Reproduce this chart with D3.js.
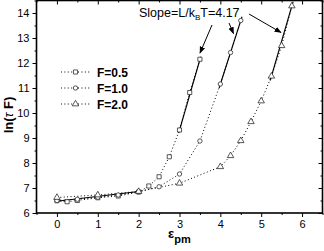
<!DOCTYPE html>
<html>
<head>
<meta charset="utf-8">
<script src="https://cdn.jsdelivr.net/npm/d3@7"></script>
<style>
  body { margin: 0; background: #fff; }
  svg { display: block; font-family: Arial, "Liberation Sans", sans-serif; }
</style>
</head>
<body>
<svg id="chart" width="324" height="251"></svg>
<script>
// data
const sqX = [0, 0.25, 0.5, 1, 1.5, 2, 2.25, 2.5, 2.75, 3, 3.25, 3.5]
const sqY = [6.49, 6.45, 6.5, 6.61, 6.68, 6.84, 7.08, 7.45, 8.25, 9.32, 10.82, 12.15]
const ciX = [0, 0.5, 1, 1.5, 2, 2.5, 3, 3.5, 4, 4.25, 4.5]
const ciY = [6.5, 6.55, 6.63, 6.72, 6.85, 7.05, 7.56, 8.88, 11.16, 12.42, 13.7]
const trX = [0, 1, 2, 3, 4, 4.25, 4.5, 4.75, 5, 5.25, 5.5, 5.75]
const trY = [6.62, 6.72, 6.86, 7.19, 7.85, 8.29, 8.89, 9.65, 10.48, 11.47, 12.69, 14.28]
const legendLabels = ["F=0.5", "F=1.0", "F=2.0"]

// solid fit segments [x0, x1], [y0, y1]
const fitLowX = [0, 2.05], fitLowY = [6.47, 6.87]
const fitSqX = [2.98, 3.52], fitSqY = [9.2, 12.25]
const fitCiX = [3.97, 4.53], fitCiY = [11.0, 13.85]
const fitTrX = [5.22, 5.78], fitTrY = [11.3, 14.45]

const xTicks = [0, 1, 2, 3, 4, 5, 6]
const yTicks = [6, 7, 8, 9, 10, 11, 12, 13, 14]

const svg = d3.select("#chart")
const mLeft = 36.5, mRight = 322.5, mTop = 0.5, mBottom = 213

const x = d3.scaleLinear().domain([-0.5, 6.5]).range([mLeft, mRight])
const y = d3.scaleLinear().domain([6, 14.5]).range([mBottom, mTop])

const xMinor = d3.range(-0.5, 6.51, 0.5).filter(v => !xTicks.includes(v))
const yMinor = d3.range(6.5, 14.51, 0.5).filter(v => !yTicks.includes(v))

// axes: left/bottom ticks outward, top/right ticks inward
function styleAxis(g) {
  g.select(".domain").remove()
  g.selectAll("line").attr("stroke", "#000").attr("stroke-width", 1)
  g.selectAll("text").attr("font-size", 11).attr("fill", "#000")
}

svg.append("g").attr("transform", `translate(0,${mBottom})`)
  .call(d3.axisBottom(x).tickValues(xTicks).tickSize(4).tickPadding(3).tickFormat(d3.format("d")))
  .call(styleAxis)
svg.append("g").attr("transform", `translate(0,${mBottom})`)
  .call(d3.axisBottom(x).tickValues(xMinor).tickSize(2).tickFormat(""))
  .call(styleAxis)
svg.append("g").attr("transform", `translate(${mLeft},0)`)
  .call(d3.axisLeft(y).tickValues(yTicks).tickSize(4).tickPadding(3).tickFormat(d3.format("d")))
  .call(styleAxis)
svg.append("g").attr("transform", `translate(${mLeft},0)`)
  .call(d3.axisLeft(y).tickValues(yMinor).tickSize(2).tickFormat(""))
  .call(styleAxis)
svg.append("g").attr("transform", `translate(0,${mTop})`)
  .call(d3.axisBottom(x).tickValues(xTicks).tickSize(4).tickFormat(""))
  .call(styleAxis)
svg.append("g").attr("transform", `translate(0,${mTop})`)
  .call(d3.axisBottom(x).tickValues(xMinor).tickSize(2).tickFormat(""))
  .call(styleAxis)
svg.append("g").attr("transform", `translate(${mRight},0)`)
  .call(d3.axisLeft(y).tickValues(yTicks).tickSize(4).tickFormat(""))
  .call(styleAxis)
svg.append("g").attr("transform", `translate(${mRight},0)`)
  .call(d3.axisLeft(y).tickValues(yMinor).tickSize(2).tickFormat(""))
  .call(styleAxis)

svg.append("rect")
  .attr("x", mLeft).attr("y", mTop)
  .attr("width", mRight - mLeft).attr("height", mBottom - mTop)
  .attr("fill", "none").attr("stroke", "#000").attr("stroke-width", 1.6)

// dotted connecting lines
const line = d3.line().x(d => x(d[0])).y(d => y(d[1]))
const series = [
  { xs: sqX, ys: sqY, sym: d3.symbolSquare, size: 17 },
  { xs: ciX, ys: ciY, sym: d3.symbolCircle, size: 15 },
  { xs: trX, ys: trY, sym: d3.symbolTriangle, size: 18 }
]

series.forEach(s => {
  const pts = s.xs.map((v, i) => [v, s.ys[i]])
  svg.append("path")
    .attr("d", line(pts))
    .attr("fill", "none").attr("stroke", "#000")
    .attr("stroke-width", 1).attr("stroke-dasharray", "1,2.4")
})

// solid fit lines
const fits = [[fitLowX, fitLowY], [fitSqX, fitSqY], [fitCiX, fitCiY], [fitTrX, fitTrY]]
fits.forEach(f => {
  svg.append("path")
    .attr("d", line(f[0].map((v, i) => [v, f[1][i]])))
    .attr("fill", "none").attr("stroke", "#000").attr("stroke-width", 1.1)
})

// markers
series.forEach(s => {
  svg.append("g").selectAll("path")
    .data(s.xs.map((v, i) => [v, s.ys[i]]))
    .join("path")
      .attr("transform", d => `translate(${x(d[0])},${y(d[1])})`)
      .attr("d", d3.symbol().type(s.sym).size(s.size))
      .attr("fill", "#fff").attr("stroke", "#222").attr("stroke-width", 0.75)
})

// legend
const legend = svg.append("g")
legendLabels.forEach((lab, i) => {
  const ly = 72 + i * 16
  legend.append("line")
    .attr("x1", 61).attr("x2", 90).attr("y1", ly).attr("y2", ly)
    .attr("stroke", "#000").attr("stroke-width", 1).attr("stroke-dasharray", "1,2.4")
  legend.append("path")
    .attr("transform", `translate(75.5,${ly})`)
    .attr("d", d3.symbol().type(series[i].sym).size(series[i].size))
    .attr("fill", "#fff").attr("stroke", "#222").attr("stroke-width", 0.75)
  legend.append("text")
    .attr("x", 97).attr("y", ly + 4.5)
    .attr("font-size", 12).attr("font-weight", "bold")
    .text(lab)
})

// annotation
const note = svg.append("text").attr("x", 139).attr("y", 17).attr("font-size", 12.5)
note.append("tspan").text("Slope=L/k")
note.append("tspan").attr("font-size", 8).attr("dy", 3).text("B")
note.append("tspan").attr("dy", -3).text("T=4.17")

svg.append("defs").append("marker")
  .attr("id", "arrow").attr("viewBox", "0 0 10 10")
  .attr("refX", 9).attr("refY", 5)
  .attr("markerWidth", 7).attr("markerHeight", 7)
  .attr("markerUnits", "userSpaceOnUse")
  .attr("orient", "auto")
  .append("path").attr("d", "M0,1 L10,5 L0,9 Z").attr("fill", "#000")

const arrows = [[212, 25, 200, 53], [229, 23, 233.5, 33.5], [249, 14, 281, 32.5]]
arrows.forEach(a => {
  svg.append("line")
    .attr("x1", a[0]).attr("y1", a[1]).attr("x2", a[2]).attr("y2", a[3])
    .attr("stroke", "#000").attr("stroke-width", 1)
    .attr("marker-end", "url(#arrow)")
})

// axis titles
const xt = svg.append("text").attr("x", 168).attr("y", 238)
  .attr("font-size", 13).attr("font-weight", "bold")
xt.append("tspan").text("ε")
xt.append("tspan").attr("font-size", 11).attr("dy", 5).text("pm")

const yt = svg.append("text")
  .attr("transform", "translate(13,115) rotate(-90)")
  .attr("text-anchor", "middle")
  .attr("font-size", 13).attr("font-weight", "bold")
yt.append("tspan").text("ln(")
yt.append("tspan").attr("font-style", "italic").attr("font-weight", "normal").text("τ")
yt.append("tspan").text(" F)")
</script>
</body>
</html>
